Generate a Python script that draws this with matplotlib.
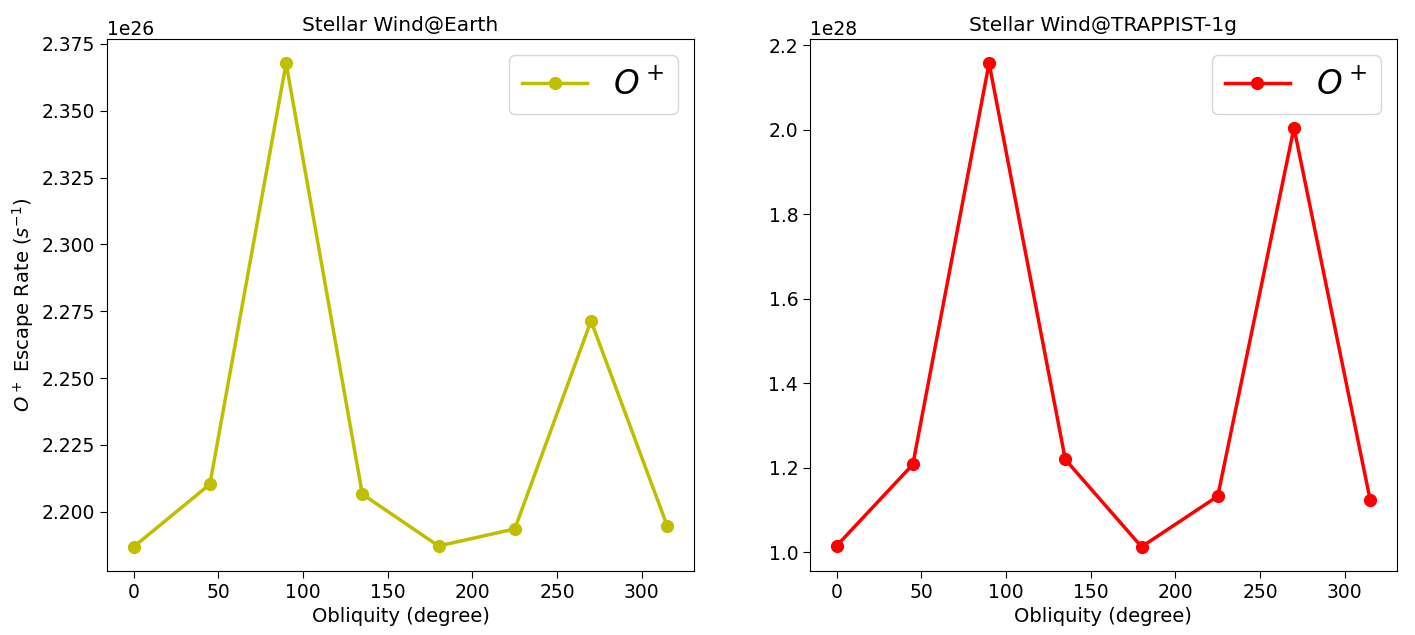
import matplotlib
matplotlib.use("Agg")
import matplotlib.pyplot as plt

# Obliquity angles (degree)
obliquity = [0, 45, 90, 135, 180, 225, 270, 315]

# O+ escape rates (s^-1)
earth_rate = [2.1869e26, 2.2103e26, 2.3678e26, 2.2066e26, 2.1872e26, 2.1936e26, 2.2714e26, 2.1947e26]
trappist_rate = [1.0148e28, 1.2075e28, 2.1580e28, 1.2193e28, 1.0125e28, 1.1324e28, 2.0050e28, 1.1230e28]

fig = plt.figure(figsize=(14.15, 6.35), dpi=100)
ax1 = fig.add_axes([0.0756, 0.1008, 0.4148, 0.8378])
ax2 = fig.add_axes([0.5724, 0.1008, 0.4148, 0.8378])

ax1.plot(obliquity, earth_rate, color="y", marker="o", linewidth=2.5, markersize=8.5, label=r"$O^+$")
ax1.set_title("Stellar Wind@Earth", fontsize=14.5)
ax1.set_xlabel("Obliquity (degree)", fontsize=14)
ax1.set_ylabel(r"$O^+$ Escape Rate ($s^{-1}$)", fontsize=14)
ax1.legend(fontsize=23.5, loc="upper right")

ax2.plot(obliquity, trappist_rate, color="r", marker="o", linewidth=2.5, markersize=8.5, label=r"$O^+$")
ax2.set_title("Stellar Wind@TRAPPIST-1g", fontsize=14.5)
ax2.set_xlabel("Obliquity (degree)", fontsize=14)
ax2.legend(fontsize=23.5, loc="upper right")

for ax in (ax1, ax2):
    ax.tick_params(labelsize=13.5, length=5)
    ax.yaxis.get_offset_text().set_fontsize(13.5)

plt.savefig("out.png")
